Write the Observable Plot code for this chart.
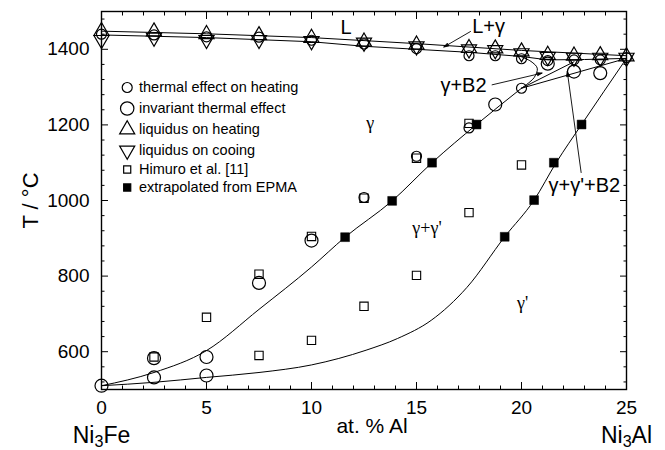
<!DOCTYPE html>
<html><head><meta charset="utf-8">
<script src="https://cdn.jsdelivr.net/npm/d3@7"></script>
<script src="https://cdn.jsdelivr.net/npm/@observablehq/plot@0.6"></script>
<style>body{margin:0;background:#fff} svg{display:block}</style>
</head><body><div id="chart"></div>
<script>
// ---------- DATA ----------
const xTicksMajor = [0,5,10,15,20,25];
const xTicksMinor = [1,2,3,4,6,7,8,9,11,12,13,14,16,17,18,19,21,22,23,24];
const yTicksMajor = [600,800,1000,1200,1400];
const yTicksMinor = [520,560,640,680,720,760,840,880,920,960,1040,1080,1120,1160,1240,1280,1320,1360,1440,1480];

// thermal effect on heating (small circles)
const heatX = [0,2.5,5,7.5,10,12.5,15,17.5,18.75,20,21.25,22.5,23.75,25,12.5,15,17.5,20];
const heatT = [1440,1438,1433,1432,1424,1414,1402,1383,1383,1375,1370,1372,1372,1378,1008,1117,1192,1297];
// invariant thermal effect (large circles)
const invX = [0,2.5,2.5,5,5,7.5,10,18.75,21.25,22.5,23.75];
const invT = [510,532,583,537,586,782,894,1254,1362,1341,1337];
// liquidus on heating / on cooling
const liqX = [0,2.5,5,7.5,10,12.5,15,17.5,18.75,20,21.25,22.5,23.75,25];
const liqHeatT = [1448,1447,1440,1437,1430,1420,1412,1403,1402,1394,1385,1383,1384,1381];
const liqCoolT = [1425,1431,1425,1425,1422,1418,1408,1400,1398,1390,1380,1378,1378,1378];
// Himuro et al. [11]
const himuroX = [2.5,5,7.5,7.5,10,10,12.5,12.5,15,15,17.5,17.5,20];
const himuroT = [586,691,805,590,905,630,1006,720,1112,802,1204,968,1094];
// extrapolated from EPMA
const epmaX = [11.6,13.84,15.74,17.86,19.2,20.6,21.54,22.86];
const epmaT = [903,999,1100,1201,904,1001,1100,1201];

// phase boundary lines
const liquidusX = [0,5,10,12.5,15,17.5,20,22.5,25];
const liquidusT = [1448,1441,1431,1423,1415,1406,1397,1390,1383];
const solidusX = [0,5,10,12.5,15,17.5,20,21.25,23,25];
const solidusT = [1438,1431,1420,1408,1400,1392,1381,1372,1373,1376];
const gSolvusX = [0,2.5,5,7.5,10,11.6,13.84,15.74,17.86,20];
const gSolvusT = [510,545,603,712,824,903,999,1100,1201,1297];
const b2X = [20,20.6,20.75,20.45,20.0];
const b2T = [1297,1325,1350,1368,1380];
const fanAX = [20,22.5], fanAT = [1297,1367];
const fanBX = [20,25], fanBT = [1297,1376];
const gPrimeX = [0,2.5,5,7.5,10,12.6,14.1,15.7,17.4,19.2,20.6,21.65,22.86,25];
const gPrimeT = [510,519,532,545,565,604,635,683,770,904,1001,1100,1201,1376];

// annotation arrows
const arrX1 = [17.57,18.6,22.84], arrT1 = [1447,1306,1074];
const arrX2 = [16.3,20.98,22.18], arrT2 = [1406,1337,1341];

// labels
const legendLabels = ["thermal effect on heating","invariant thermal effect","liquidus on heating","liquidus on cooing","Himuro et al. [11]","extrapolated from EPMA"];
const sansLabels = [
  {x:11.38, t:1441, s:"L"},
  {x:17.65, t:1443, s:"L+γ"},
  {x:16.14, t:1288, s:"γ+B2"},
  {x:21.29, t:1022, s:"γ+γ'+B2"}
];
const serifLabels = [
  {x:12.8, t:1190, s:"γ"},
  {x:15.5, t:911, s:"γ+γ'"},
  {x:20.05, t:712, s:"γ'"}
];
const xTitle = "at. % Al", yTitle = "T / °C";
const endLabels = [{x:0, s:"Ni3Fe"},{x:25, s:"Ni3Al"}];

// ---------- BUILD ----------
const zip = (xs, ts) => xs.map((x,i)=>({x, t:ts[i]}));
const triDown = {draw(ctx, size){const y=Math.sqrt(size/(3*Math.sqrt(3)));ctx.moveTo(0,2*y);ctx.lineTo(-Math.sqrt(3)*y,-y);ctx.lineTo(Math.sqrt(3)*y,-y);ctx.closePath();}};
const sans = "Liberation Sans, Arial, Helvetica, sans-serif";
const serif = "Liberation Serif, Times New Roman, serif";
const line = (xs, ts, curve="linear") => Plot.line(zip(xs,ts), {x:"x", y:"t", curve, stroke:"black", strokeWidth:1});
const mk = {stroke:"black", strokeWidth:1.2, fill:"none"};

const legendDy = [76, 97, 118, 139, 158, 176];
const legendSym = [
  {symbol:"circle", r:5, fill:"none"},
  {symbol:"circle", r:6.7, fill:"none"},
  {symbol:"triangle", r:5.6, fill:"none"},
  {symbol:triDown, r:5.6, fill:"none"},
  {symbol:"square", r:4, fill:"none"},
  {symbol:"square", r:4, fill:"black"}
];
const legendMarks = legendLabels.flatMap((lab, i) => [
  Plot.dot([lab], {frameAnchor:"top-left", dx:25.7, dy:legendDy[i], symbol:legendSym[i].symbol, r:legendSym[i].r, stroke:"black", strokeWidth:1.2, fill:legendSym[i].fill}),
  Plot.text([lab], {frameAnchor:"top-left", dx:37.5, dy:legendDy[i], text:d=>d, textAnchor:"start", lineAnchor:"middle", fontSize:14.5, fontFamily:sans, fill:"black"})
]);

const chart = Plot.plot({
  width: 665, height: 450,
  marginLeft: 101, marginRight: 39, marginTop: 11, marginBottom: 61,
  x: {domain:[0,25]},
  y: {domain:[500,1500]},
  style: {fontFamily: sans, background: "white", color: "black"},
  marks: [
    // inward ticks
    Plot.axisX(xTicksMajor, {anchor:"bottom", tickSize:-7, fill:"none", label:null}),
    Plot.axisX(xTicksMinor, {anchor:"bottom", tickSize:-3.5, fill:"none", label:null}),
    Plot.axisX(xTicksMajor, {anchor:"top", tickSize:-7, fill:"none", label:null}),
    Plot.axisX(xTicksMinor, {anchor:"top", tickSize:-3.5, fill:"none", label:null}),
    Plot.axisY(yTicksMajor, {anchor:"left", tickSize:-7, fill:"none", label:null}),
    Plot.axisY(yTicksMinor, {anchor:"left", tickSize:-3.5, fill:"none", label:null}),
    Plot.axisY(yTicksMajor, {anchor:"right", tickSize:-7, fill:"none", label:null}),
    Plot.axisY(yTicksMinor, {anchor:"right", tickSize:-3.5, fill:"none", label:null}),
    // tick labels
    Plot.axisX(xTicksMajor, {anchor:"bottom", tickSize:0, tickPadding:11, fontSize:19, label:null, tickFormat:"d"}),
    Plot.axisY(yTicksMajor, {anchor:"left", tickSize:0, tickPadding:12, fontSize:19, label:null, tickFormat:"d"}),
    Plot.frame({stroke:"black", strokeWidth:1.4}),
    // phase boundaries
    line(liquidusX, liquidusT),
    line(solidusX, solidusT),
    line(gSolvusX, gSolvusT, "monotone-x"),
    line(b2X, b2T, "catmull-rom"),
    line(fanAX, fanAT),
    line(fanBX, fanBT),
    line(gPrimeX, gPrimeT, "monotone-x"),
    // data
    Plot.dot(zip(himuroX, himuroT), {x:"x", y:"t", symbol:"square", r:4.7, ...mk, strokeWidth:1.1}),
    Plot.dot(zip(epmaX, epmaT), {x:"x", y:"t", symbol:"square", r:5, fill:"black", stroke:"black", strokeWidth:0.5}),
    Plot.dot(zip(heatX, heatT), {x:"x", y:"t", symbol:"circle", r:5, ...mk}),
    Plot.dot(zip(invX, invT), {x:"x", y:"t", symbol:"circle", r:6.5, ...mk}),
    Plot.dot(zip(liqX, liqHeatT), {x:"x", y:"t", symbol:"triangle", r:5.6, ...mk}),
    Plot.dot(zip(liqX, liqCoolT), {x:"x", y:"t", symbol:triDown, r:5.6, ...mk}),
    // arrows
    Plot.arrow(arrX1.map((x,i)=>({x1:x, t1:arrT1[i], x2:arrX2[i], t2:arrT2[i]})), {x1:"x1", y1:"t1", x2:"x2", y2:"t2", stroke:"black", strokeWidth:0.9, headLength:8, headAngle:35}),
    // annotations
    Plot.text(sansLabels, {x:"x", y:"t", text:"s", textAnchor:"start", lineAnchor:"bottom", fontSize:20, fontFamily:sans, fill:"black"}),
    Plot.text(serifLabels, {x:"x", y:"t", text:"s", textAnchor:"middle", lineAnchor:"bottom", fontSize:18, fontFamily:serif, fill:"black"}),
    // axis titles
    Plot.text([xTitle], {frameAnchor:"bottom", dx:8, dy:43, text:d=>d, textAnchor:"middle", lineAnchor:"bottom", fontSize:21, fontFamily:sans, fill:"black"}),
    Plot.text([yTitle], {frameAnchor:"left", dx:-71, text:d=>d, rotate:-90, textAnchor:"middle", lineAnchor:"middle", fontSize:22, fontFamily:sans, fill:"black"}),
    Plot.text(endLabels, {x:"x", frameAnchor:"bottom", dy:53, text:"s", textAnchor:"middle", lineAnchor:"bottom", fontSize:23, fontFamily:sans, fill:"black"}),
    ...legendMarks
  ]
});

// subscripts for Ni3Fe / Ni3Al
d3.select(chart).selectAll("text").each(function(){
  const m = /^Ni3(\w+)$/.exec(this.textContent);
  if (m) {
    const s = d3.select(this); s.text(null);
    s.append("tspan").text("Ni");
    s.append("tspan").attr("font-size","70%").attr("dy","4").text("3");
    s.append("tspan").attr("dy","-4").text(m[1]);
  }
});
// filled arrow heads
d3.select(chart).selectAll('g[aria-label="arrow"] path').each(function(){
  const p = d3.select(this);
  p.attr("d", p.attr("d") + "Z").attr("fill", "black");
});
document.getElementById("chart").append(chart);
</script></body></html>
